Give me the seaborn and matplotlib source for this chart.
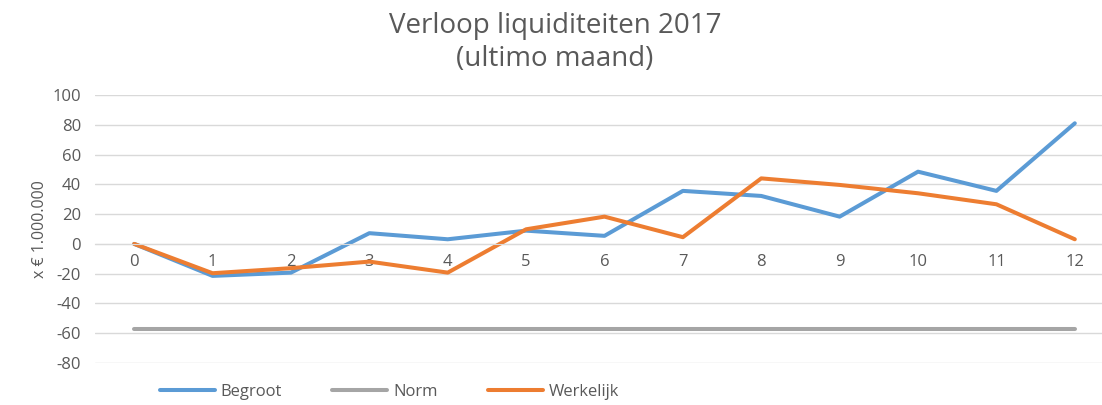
import matplotlib
matplotlib.use("Agg")
import matplotlib.pyplot as plt
import pandas as pd
import seaborn as sns

months = list(range(13))
begroot = [0, -21.5, -19.3, 7.2, 3.1, 8.9, 5.4, 35.6, 32.2, 18.3, 48.5, 35.6, 81]
norm = [-57] * 13
werkelijk = [0, -19.7, -16.3, -11.9, -19.3, 9.8, 18.3, 4.5, 44, 39.6, 34, 26.6, 3.1]

df = pd.DataFrame({
    "maand": months * 3,
    "waarde": begroot + norm + werkelijk,
    "reeks": ["Begroot"] * 13 + ["Norm"] * 13 + ["Werkelijk"] * 13,
})

sns.set_style("white")
plt.rcParams["font.family"] = ["Open Sans", "DejaVu Sans"]
plt.rcParams["axes.unicode_minus"] = False
grey = "#595959"

fig = plt.figure(figsize=(11.02, 4.05), dpi=100)
ax = fig.add_axes([95 / 1102, 42 / 405, 1019 / 1102, 268 / 405])

sns.lineplot(data=df, x="maand", y="waarde", hue="reeks",
             palette={"Begroot": "#5B9BD5", "Norm": "#A5A5A5", "Werkelijk": "#ED7D31"},
             linewidth=2.9, ax=ax, legend=True)

ax.set_xlim(-0.5, 12.5)
ax.set_ylim(-80, 100)
ax.set_yticks(range(-80, 101, 20))
ax.set_xticks(months)
ax.grid(axis="y", color="#D9D9D9", linewidth=1)
ax.set_axisbelow(True)
for s in ["top", "right", "left"]:
    ax.spines[s].set_visible(False)
ax.spines["bottom"].set_position(("data", 0))
ax.spines["bottom"].set_color("#D9D9D9")
ax.tick_params(axis="x", length=0, labelsize=12, labelcolor=grey, pad=7)
ax.tick_params(axis="y", length=0, labelsize=12, labelcolor=grey, pad=10)
ax.set_xlabel("")
ax.set_ylabel("x € 1.000.000", color=grey, fontsize=11.5, labelpad=3)

fig.text(0.5035, 0.937, "Verloop liquiditeiten 2017", ha="center", va="center",
         fontsize=20, color=grey)
fig.text(0.5035, 0.855, "(ultimo maand)", ha="center", va="center",
         fontsize=20, color=grey)

ax.get_legend().remove()
handles, labels = ax.get_legend_handles_labels()
leg = fig.legend(handles, labels, loc="center left", bbox_to_anchor=(145 / 1102, 0.033),
                 ncol=3, frameon=False, fontsize=12, handlelength=3.3,
                 handletextpad=0.35, columnspacing=3.0)
for t in leg.get_texts():
    t.set_color(grey)

fig.savefig("out.png", dpi=100)
